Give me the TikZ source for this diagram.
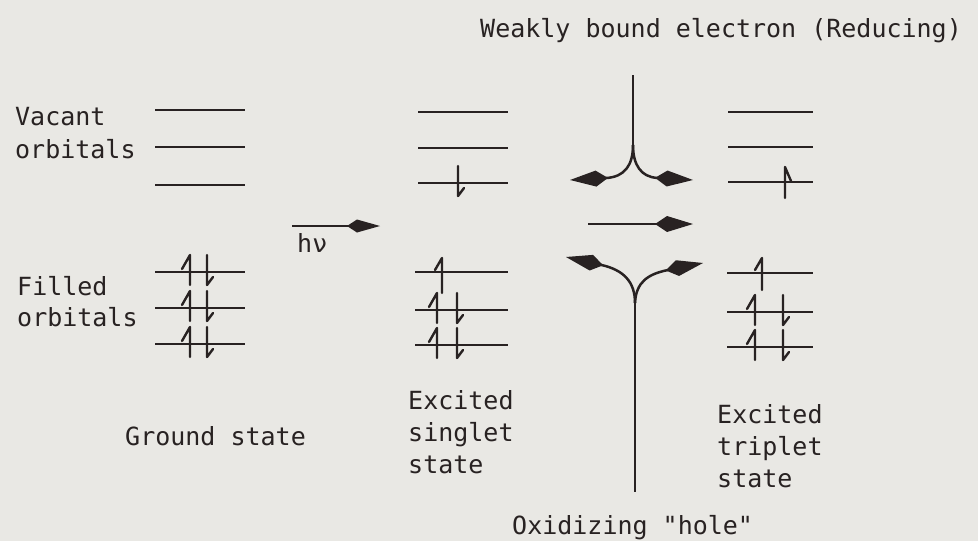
\documentclass[tikz,border=0pt]{standalone}
\usepackage{fontspec}
\newfontfamily\tw{DejaVu Sans Mono}
\usetikzlibrary{arrows.meta}
\definecolor{paper}{RGB}{233,232,228}
\definecolor{ink}{RGB}{40,34,34}
\tikzset{
  orb/.style={line width=2.8pt,draw=ink},
  spin/.style={line width=2.4pt,draw=ink,line join=round,line cap=round},
  lbl/.style={inner sep=0pt,anchor=base west,font=\tw\fontsize{25}{32}\selectfont,text=ink},
  bigtip/.style={line width=2.5pt,draw=ink,-{Kite[length=38pt,width=16pt,inset=12pt]}},
  hvtip/.style={line width=2.5pt,draw=ink,-{Kite[length=33pt,width=13pt,inset=10pt]}},
  spinup/.pic={\draw[spin] (0,13)--(0,-17)--(-8,-3);},
  spinupr/.pic={\draw[spin] (0,16)--(0,-15)--(6,-1);},
  spindown/.pic={\draw[spin] (0,-17)--(0,13)--(6,5);},
}
\begin{document}
\begin{tikzpicture}[x=1pt,y=-1pt]
\fill[paper] (0,0) rectangle (978,541);
\useasboundingbox (0,0) rectangle (978,541);

% ---- labels
\node[lbl] (weak) at (480,37) {Weakly bound electron (Reducing)};
\node[lbl] (vac1) at (15,125) {Vacant};
\node[lbl] (vac2) at (15,158) {orbitals};
\node[lbl] (fil1) at (17,295) {Filled};
\node[lbl] (fil2) at (17,326) {orbitals};
\node[lbl] (gs) at (125,445) {Ground state};
\node[lbl] (s1) at (408,409) {Excited};
\node[lbl] (s2) at (408,441) {singlet};
\node[lbl] (s3) at (408,473) {state};
\node[lbl] (t1) at (717,423) {Excited};
\node[lbl] (t2) at (717,455) {triplet};
\node[lbl] (t3) at (717,487) {state};
\node[lbl] (ox) at (512,534) {Oxidizing "hole"};
\node[lbl] (hv) at (297,252) {hν};

% ---- ground state
\foreach \y in {110,147,185,272,308,344} \draw[orb] (155,\y) -- (245,\y);
\foreach \y in {272,308,344} {
  \pic at (190,\y) {spinup};
  \pic at (207,\y) {spindown};
}

% ---- excited singlet
\foreach \y in {112,148,183} \draw[orb] (418,\y) -- (508,\y);
\foreach \y in {272,310,345} \draw[orb] (415,\y) -- (508,\y);
\draw[spin] (442,293) -- (442,258) -- (435,270);
\foreach \y in {310,345} {
  \pic at (437,\y) {spinup};
  \pic at (457,\y) {spindown};
}
\pic at (458,183) {spindown};

% ---- excited triplet
\foreach \y in {112,147,182} \draw[orb] (728,\y) -- (813,\y);
\foreach \y in {273,312,347} \draw[orb] (727,\y) -- (813,\y);
\draw[spin] (762,290) -- (762,258) -- (755,270);
\foreach \y in {312,347} {
  \pic at (755,\y) {spinup};
  \pic at (783,\y) {spindown};
}
\pic at (785,182) {spinupr};

% ---- h nu arrow
\coordinate (hvA) at (292,226);
\coordinate (hvB) at (380,226);
\draw[hvtip] (hvA) -- (hvB);

% ---- central arrows
\coordinate (topEnd) at (633,75);
\coordinate (topJ) at (633,145);
\coordinate (topL) at (570,180);
\coordinate (topR) at (693,180);
\coordinate (midA) at (588,224);
\coordinate (midB) at (693,224);
\coordinate (botJ) at (635,303);
\coordinate (botEnd) at (635,492);
\coordinate (botL) at (566,257);
\coordinate (botR) at (703,263);

\draw[line width=2.2pt,ink] (topEnd) -- (topJ);
\draw[bigtip] (topJ) .. controls (633,165) and (625,177) .. (topL);
\draw[bigtip] (topJ) .. controls (633,165) and (641,177) .. (topR);
\draw[bigtip] (midA) -- (midB);
\draw[line width=2.2pt,ink] (botJ) -- (botEnd);
\draw[bigtip] (botJ) .. controls (635,282) and (624,270) .. (botL);
\draw[bigtip] (botJ) .. controls (636,282) and (648,274) .. (botR);
\end{tikzpicture}
\end{document}
